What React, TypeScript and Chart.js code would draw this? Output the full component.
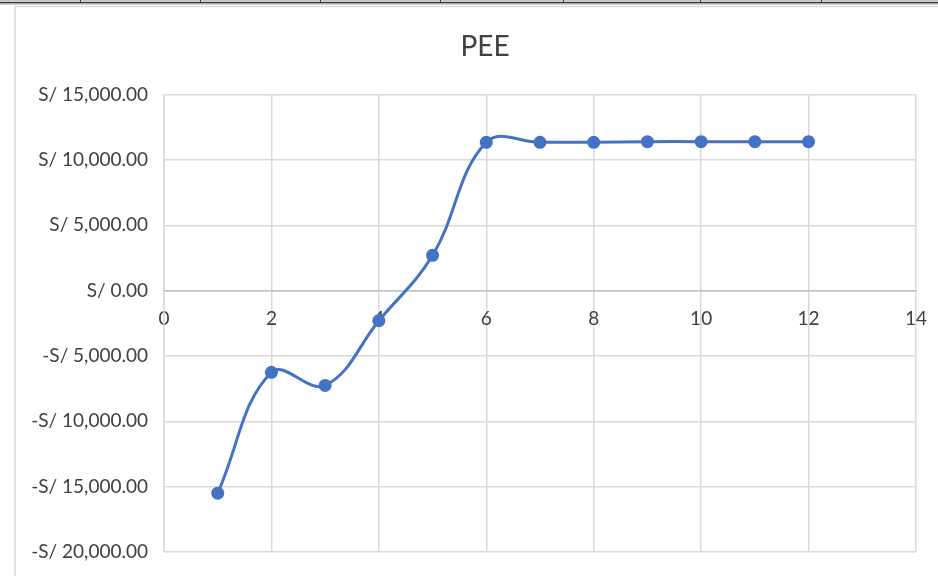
import React, { useEffect, useRef } from "react";
import { Chart, registerables } from "chart.js";

Chart.register(...registerables);

const TITLE = "PEE";
const xValues = [1, 2, 3, 4, 5, 6, 7, 8, 9, 10, 11, 12];
const yValues = [-15500, -6250, -7250, -2300, 2700, 11350, 11350, 11350, 11400, 11400, 11400, 11400];
const xMin = 0;
const xMax = 14;
const xStep = 2;
const yMin = -20000;
const yMax = 15000;
const yStep = 5000;
const cellDividers = [80, 200, 320, 440, 563, 700, 821];

const FONT = "Lato, 'Open Sans', sans-serif";
const PLOT_LEFT = 164;
const TITLE_CENTER = 485;

function formatSoles(v: number): string {
  const abs = Math.abs(v).toLocaleString("en-US", { minimumFractionDigits: 2, maximumFractionDigits: 2 });
  return (v < 0 ? "-S/ " : "S/ ") + abs;
}

const framePlugin = {
  id: "excelFrame",
  afterLayout(chart: any) {
    const tb = chart.titleBlock;
    if (tb) {
      const half = Math.min(TITLE_CENTER, chart.width - TITLE_CENTER);
      tb.left = TITLE_CENTER - half;
      tb.right = TITLE_CENTER + half;
    }
  },
  beforeDraw(chart: any) {
    const ctx = chart.ctx;
    const w = chart.width;
    const h = chart.height;
    ctx.save();
    ctx.fillStyle = "#ffffff";
    ctx.fillRect(0, 0, w, h);
    ctx.fillStyle = "#c8c8c8";
    ctx.fillRect(0, 0, w, 2);
    ctx.fillStyle = "#3c3c3c";
    ctx.fillRect(0, 2, w, 1.5);
    ctx.fillStyle = "#b0b0b0";
    ctx.fillRect(0, 3.5, w, 1);
    ctx.strokeStyle = "#3c3c3c";
    ctx.lineWidth = 1;
    cellDividers.forEach((x) => {
      ctx.beginPath();
      ctx.moveTo(x + 0.5, 0);
      ctx.lineTo(x + 0.5, 3);
      ctx.stroke();
    });
    ctx.strokeStyle = "#d9d9d9";
    ctx.lineWidth = 1.5;
    ctx.beginPath();
    ctx.moveTo(15, h);
    ctx.lineTo(15, 6.5);
    ctx.lineTo(w, 6.5);
    ctx.stroke();
    ctx.restore();
  },
};

export default function App() {
  const canvasRef = useRef<HTMLCanvasElement | null>(null);

  useEffect(() => {
    if (!canvasRef.current) return;
    const chart = new Chart(canvasRef.current, {
      type: "scatter",
      data: {
        datasets: [
          {
            label: TITLE,
            data: xValues.map((x, i) => ({ x, y: yValues[i] })),
            showLine: true,
            borderColor: "#4472C4",
            backgroundColor: "#4472C4",
            borderWidth: 3,
            pointRadius: 6.5,
            pointHoverRadius: 6.5,
            pointBorderWidth: 0,
            tension: 0.4,
          },
        ],
      },
      options: {
        responsive: false,
        animation: false,
        layout: { padding: { left: 0, right: 22, top: 0, bottom: 24 } },
        plugins: {
          legend: { display: false },
          tooltip: { enabled: false },
          title: {
            display: true,
            text: TITLE,
            color: "#404040",
            font: { family: FONT, size: 28, weight: "normal" },
            padding: { top: 30, bottom: 31 },
          },
        },
        scales: {
          x: {
            type: "linear",
            position: { y: 0 } as any,
            min: xMin,
            max: xMax,
            afterFit(scale: any) {
              scale.paddingLeft = 0;
              scale.paddingRight = 0;
            },
            ticks: {
              stepSize: xStep,
              color: "#404040",
              font: { family: FONT, size: 19 },
              padding: 17,
              maxRotation: 0,
            },
            grid: { color: "#d9d9d9", lineWidth: 1.5, drawTicks: false },
            border: { color: "#bfbfbf", width: 1.5 },
          },
          y: {
            type: "linear",
            min: yMin,
            max: yMax,
            afterFit(scale: any) {
              scale.width = PLOT_LEFT;
              scale.paddingTop = 0;
              scale.paddingBottom = 0;
            },
            ticks: {
              stepSize: yStep,
              color: "#404040",
              font: { family: FONT, size: 19 },
              padding: 16,
              callback: (v: any) => formatSoles(Number(v)),
            },
            grid: { color: "#d9d9d9", lineWidth: 1.5, drawTicks: false },
            border: { color: "#d9d9d9", width: 1.5 },
          },
        },
      },
      plugins: [framePlugin],
    });
    return () => chart.destroy();
  }, []);

  return (
    <div style={{ position: "fixed", left: 0, top: 0, width: 938, height: 576, background: "#fff" }}>
      <canvas ref={canvasRef} width={938} height={576} style={{ display: "block" }} />
    </div>
  );
}
